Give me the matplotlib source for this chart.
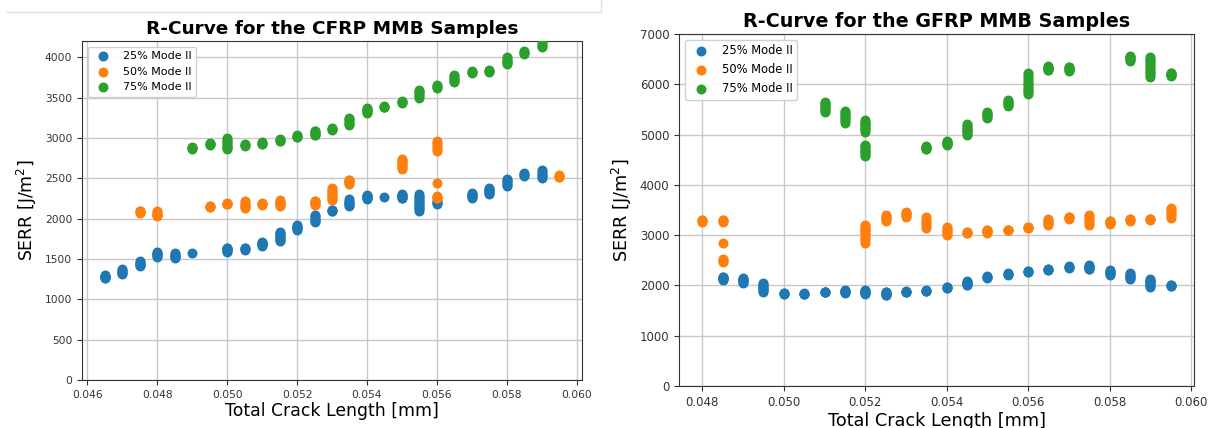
import numpy as np
import matplotlib
matplotlib.use("Agg")
import matplotlib.pyplot as plt
from matplotlib.lines import Line2D

labels = ["25% Mode II", "50% Mode II", "75% Mode II"]
colors = ["#1f77b4", "#ff7f0e", "#2ca02c"]

# CFRP - crack length positions and SERR readings at each position
cfrp_25_x = [0.0465, 0.047, 0.0475, 0.048, 0.0485, 0.049, 0.050, 0.0505, 0.051, 0.0515,
             0.052, 0.0525, 0.053, 0.0535, 0.054, 0.0545, 0.055, 0.0555, 0.056, 0.057,
             0.0575, 0.058, 0.0585, 0.059]
cfrp_25_y = [[1260, 1280, 1300], [1310, 1340, 1380], [1410, 1440, 1480], [1530, 1560, 1580],
             [1510, 1540, 1570], [1570], [1590, 1620, 1640], [1610, 1640], [1660, 1690, 1710],
             [1720, 1760, 1800, 1830], [1860, 1890, 1920], [1960, 2000, 2040], [2090, 2110],
             [2150, 2190, 2240], [2240, 2270, 2290], [2270], [2250, 2280, 2300],
             [2100, 2150, 2200, 2250, 2300], [2180, 2220], [2250, 2290, 2320],
             [2300, 2340, 2380], [2400, 2450, 2490], [2530, 2560], [2500, 2550, 2600]]

cfrp_50_x = [0.0475, 0.048, 0.0495, 0.050, 0.0505, 0.051, 0.0515, 0.0525, 0.053, 0.0535,
             0.055, 0.056, 0.056, 0.056, 0.0595]
cfrp_50_y = [[2070, 2100], [2030, 2060, 2100], [2140, 2160], [2180, 2190], [2130, 2170, 2220],
             [2170, 2190], [2150, 2190, 2230], [2170, 2200, 2220], [2230, 2280, 2330, 2380],
             [2430, 2460, 2480], [2610, 2660, 2700, 2740], [2840, 2900, 2960], [2445],
             [2250, 2280], [2510, 2540]]

cfrp_75_x = [0.049, 0.0495, 0.050, 0.0505, 0.051, 0.0515, 0.052, 0.0525, 0.053, 0.0535,
             0.054, 0.0545, 0.055, 0.0555, 0.056, 0.0565, 0.057, 0.0575, 0.058, 0.0585, 0.059]
cfrp_75_y = [[2860, 2890], [2910, 2940], [2860, 2900, 2950, 3000], [2900, 2920], [2920, 2950],
             [2960, 2980], [3010, 3030], [3030, 3060, 3090], [3100, 3120], [3160, 3200, 3250],
             [3310, 3340, 3370], [3380, 3390], [3430, 3460], [3500, 3550, 3590], [3620, 3660],
             [3690, 3730, 3780], [3800, 3830], [3820, 3840], [3910, 3950, 4000], [4040, 4080],
             [4130, 4170]]

# GFRP
gfrp_25_x = [0.0485, 0.049, 0.0495, 0.050, 0.0505, 0.051, 0.0515, 0.052, 0.0525, 0.053,
             0.0535, 0.054, 0.0545, 0.055, 0.0555, 0.056, 0.0565, 0.057, 0.0575, 0.058,
             0.0585, 0.059, 0.0595]
gfrp_25_y = [[2110, 2140, 2170], [2050, 2100, 2150], [1860, 1920, 1980, 2040], [1820, 1850],
             [1820, 1840], [1860, 1870], [1850, 1880, 1900], [1830, 1870, 1900],
             [1800, 1840, 1870], [1870, 1880], [1880, 1900], [1950, 1970], [2000, 2050, 2090],
             [2150, 2190], [2210, 2240], [2260, 2290], [2310, 2330], [2350, 2380],
             [2320, 2360, 2400], [2210, 2260, 2310], [2120, 2180, 2250],
             [1970, 2030, 2080, 2120], [1990, 2010]]

gfrp_50_x = [0.048, 0.0485, 0.0485, 0.0485, 0.052, 0.0525, 0.053, 0.0535, 0.054, 0.0545,
             0.055, 0.0555, 0.056, 0.0565, 0.057, 0.0575, 0.058, 0.0585, 0.059, 0.0595]
gfrp_50_y = [[3260, 3310], [3260, 3310], [2840], [2470, 2530], [2850, 2950, 3050, 3120, 3200],
             [3280, 3340, 3400], [3370, 3420, 3460], [3150, 3250, 3370], [3000, 3080, 3160],
             [3040, 3060], [3050, 3080, 3100], [3100, 3110], [3140, 3170], [3200, 3270, 3330],
             [3330, 3370], [3210, 3300, 3410], [3220, 3260, 3290], [3290, 3330], [3310, 3330],
             [3350, 3450, 3530]]

gfrp_75_x = [0.051, 0.0515, 0.052, 0.0535, 0.054, 0.0545, 0.055, 0.0555, 0.056, 0.0565,
             0.057, 0.0585, 0.059, 0.0595]
gfrp_75_y = [[5440, 5520, 5600, 5640], [5240, 5320, 5400, 5470],
             [4580, 4650, 4720, 4790, 5060, 5140, 5210, 5280], [4710, 4740, 4770],
             [4790, 4830, 4870], [4990, 5070, 5140, 5220], [5320, 5390, 5450],
             [5570, 5630, 5690], [5810, 5900, 6000, 6100, 6230], [6280, 6320, 6360],
             [6270, 6310, 6350], [6470, 6520, 6560], [6150, 6250, 6350, 6450, 6540],
             [6170, 6200, 6230]]


def expand(xs, ys):
    # fill in each vertical stack of readings so it looks like the original dense clusters
    px, py = [], []
    for x, vals in zip(xs, ys):
        vals = sorted(vals)
        pts = list(vals)
        for a, b in zip(vals[:-1], vals[1:]):
            if b - a < 200:
                pts += list(np.linspace(a, b, 4)[1:-1])
        px += [x] * len(pts)
        py += pts
    return px, py


def draw(ax, series, title, ylim, fs):
    for (xs, ys), lab, c in zip(series, labels, colors):
        px, py = expand(xs, ys)
        ax.scatter(px, py, s=38, color=c, label=lab, zorder=3)
    ax.set_ylim(*ylim)
    ax.grid(True, color="#c8c8c8", linewidth=1.0)
    ax.set_axisbelow(True)
    ax.set_title(title, fontsize=fs["title"], fontweight="bold", pad=5)
    ax.set_xlabel("Total Crack Length [mm]", fontsize=fs["label"], labelpad=2)
    ax.set_ylabel("SERR [J/m$^2$]", fontsize=fs["label"], labelpad=4)
    ax.tick_params(labelsize=fs["tick"], color="#333333", labelcolor="#333333")
    ax.legend(loc="upper left", fontsize=fs["legend"], framealpha=0.9)
    for s in ax.spines.values():
        s.set_color("#333333")


fig = plt.figure(figsize=(12.13, 4.28), dpi=100)

ax1 = fig.add_axes([82 / 1213, 48 / 428, 500 / 1213, 339 / 428])
draw(ax1, [(cfrp_25_x, cfrp_25_y), (cfrp_50_x, cfrp_50_y), (cfrp_75_x, cfrp_75_y)],
     "R-Curve for the CFRP MMB Samples", (0, 4200),
     {"title": 13.3, "label": 12.4, "tick": 7.7, "legend": 8.0})

ax2 = fig.add_axes([679 / 1213, 42 / 428, 515 / 1213, 352 / 428])
draw(ax2, [(gfrp_25_x, gfrp_25_y), (gfrp_50_x, gfrp_50_y), (gfrp_75_x, gfrp_75_y)],
     "R-Curve for the GFRP MMB Samples", (0, 7000),
     {"title": 13.8, "label": 12.7, "tick": 8.5, "legend": 8.3})

# notebook cell border above the left image
fig.add_artist(Line2D([7 / 1213, 601 / 1213], [1 - 11.5 / 428, 1 - 11.5 / 428],
                      color="#e0e0e0", linewidth=1))
fig.add_artist(Line2D([601 / 1213, 601 / 1213], [1 - 11.5 / 428, 1.0],
                      color="#e0e0e0", linewidth=1))

plt.savefig("out.png", dpi=100)
